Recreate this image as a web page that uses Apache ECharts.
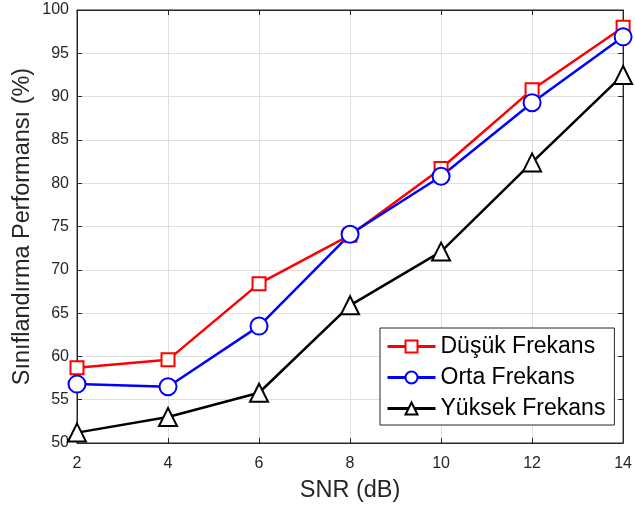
<!DOCTYPE html>
<html>
<head>
<meta charset="utf-8">
<script src="https://cdn.jsdelivr.net/npm/echarts@6/dist/echarts.min.js"></script>
<style>
  html, body { margin: 0; padding: 0; background: #fff; }
  #chart { width: 635px; height: 508px; }
</style>
</head>
<body>
<div id="chart"></div>
<script>
// SNR değerleri (dB)
const snr = [2, 4, 6, 8, 10, 12, 14];
const dusukFrekans = [58.7, 59.6, 68.4, 74.0, 81.7, 90.8, 98.0];
const ortaFrekans = [56.8, 56.5, 63.5, 74.1, 80.8, 89.3, 96.9];
const yuksekFrekans = [51.2, 53.0, 55.8, 65.9, 72.1, 82.4, 92.5];
const yTicks = [50, 55, 60, 65, 70, 75, 80, 85, 90, 95, 100];

var chartDom = document.getElementById('chart');
var myChart = echarts.init(chartDom);

const font = 'Liberation Sans, Arial, Helvetica, sans-serif';
const axisColor = '#262626';

function pairs(vals) {
    return snr.map((x, i) => [x, vals[i]]);
}

function makeSeries(name, vals, color, symbol, size) {
    return {
        name: name,
        type: 'line',
        data: pairs(vals),
        symbol: symbol,
        symbolSize: size,
        lineStyle: { color: color, width: 2.5 },
        itemStyle: { color: color, borderColor: color, borderWidth: 2.5 },
        emphasis: { disabled: true },
        z: 5
    };
}

var option = {
    animation: false,
    textStyle: { fontFamily: font },
    grid: {
        left: 77, right: 7, top: 10, bottom: 65,
        show: true, borderColor: axisColor, borderWidth: 1
    },
    legend: {
        orient: 'vertical',
        left: 380, top: 328,
        padding: [7, 9, 5, 6],
        itemGap: 8,
        itemWidth: 48,
        itemHeight: 15,
        borderColor: axisColor,
        borderWidth: 1,
        backgroundColor: '#fff',
        lineStyle: { width: 3 },
        textStyle: { fontSize: 23, color: '#000', fontFamily: font },
        data: ['Düşük Frekans', 'Orta Frekans', 'Yüksek Frekans']
    },
    xAxis: [{
        type: 'value',
        min: 2, max: 14, interval: 2,
        name: 'SNR (dB)',
        nameLocation: 'middle',
        nameGap: 36,
        nameMoveOverlap: false,
        nameTextStyle: { fontSize: 23.5, color: axisColor },
        axisLine: { lineStyle: { color: axisColor } },
        axisTick: { inside: true, length: 5, lineStyle: { color: axisColor } },
        axisLabel: { fontSize: 16, color: axisColor, margin: 13 },
        splitLine: { show: true, lineStyle: { color: '#dfdfdf' } }
    }, {
        type: 'value',
        position: 'top',
        min: 2, max: 14, interval: 2,
        axisLine: { lineStyle: { color: axisColor } },
        axisTick: { inside: true, length: 5, lineStyle: { color: axisColor } },
        axisLabel: { show: false },
        splitLine: { show: false }
    }],
    yAxis: [{
        type: 'value',
        min: 50, max: 100, interval: 5,
        name: 'Sınıflandırma Performansı (%)',
        nameLocation: 'middle',
        nameGap: 42,
        nameMoveOverlap: false,
        nameTextStyle: { fontSize: 23.5, color: axisColor },
        axisLine: { show: true, lineStyle: { color: axisColor } },
        axisTick: { show: true, inside: true, length: 5, lineStyle: { color: axisColor } },
        axisLabel: { fontSize: 16, color: axisColor, margin: 8 },
        splitLine: { show: true, lineStyle: { color: '#dfdfdf' } }
    }, {
        type: 'value',
        position: 'right',
        min: 50, max: 100, interval: 5,
        axisLine: { show: true, lineStyle: { color: axisColor } },
        axisTick: { show: true, inside: true, length: 5, lineStyle: { color: axisColor } },
        axisLabel: { show: false },
        splitLine: { show: false }
    }],
    series: [
        makeSeries('Düşük Frekans', dusukFrekans, '#ff0000', 'emptyRect', 13),
        makeSeries('Orta Frekans', ortaFrekans, '#0000ff', 'emptyCircle', 17),
        makeSeries('Yüksek Frekans', yuksekFrekans, '#000000', 'emptyTriangle', 18)
    ]
};

myChart.setOption(option);
window.addEventListener('resize', () => myChart.resize());
</script>
</body>
</html>
